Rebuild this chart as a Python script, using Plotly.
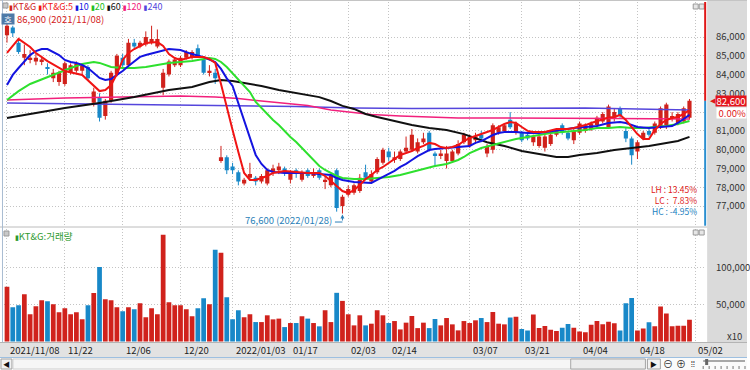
import plotly.graph_objects as go

# ---------------- data ----------------
month_days = {
    "2021/11": [8, 9, 10, 11, 12, 15, 16, 17, 18, 19, 22, 23, 24, 25, 26, 29, 30],
    "2021/12": [1, 2, 3, 6, 7, 8, 9, 10, 13, 14, 15, 16, 17, 20, 21, 22, 23, 24, 27, 28, 29, 30],
    "2022/01": [3, 4, 5, 6, 7, 10, 11, 12, 13, 14, 17, 18, 19, 20, 21, 24, 25, 26, 27, 28],
    "2022/02": [3, 4, 7, 8, 9, 10, 11, 14, 15, 16, 17, 18, 21, 22, 23, 24, 25, 28],
    "2022/03": [2, 3, 4, 7, 8, 10, 11, 14, 15, 16, 17, 18, 21, 22, 23, 24, 25, 28, 29, 30, 31],
    "2022/04": [1, 4, 5, 6, 7, 8, 11, 12, 13, 14, 15, 18, 19, 20, 21, 22, 25, 26, 27, 28, 29],
}
dates = [f"{m}/{d:02d}" for m, ds in month_days.items() for d in ds]

tick_idx = [0, 10, 20, 30, 39, 49, 59, 66, 80, 89, 99, 109, 119]
tick_labels = ["2021/11/08", "11/22", "12/06", "12/20", "2022/01/03", "01/17", "02/03",
               "02/14", "03/07", "03/21", "04/04", "04/18", "05/02"]

price_ticks = [77000, 78000, 79000, 80000, 81000, 82000, 83000, 84000, 85000, 86000]
volume_ticks = [50000, 100000]

opens = [86100, 86500, 85700, 84900, 84800, 84700, 84700, 84400, 83800, 83600,
         83500, 84100, 84200, 84200, 84400, 82500, 82800, 81800, 82600, 84000,
         84900, 84500, 85700, 85500, 85600, 85700, 85500, 83300, 84000, 84500,
         84500, 84900, 84900, 85400, 84800, 84100, 84100, 79400, 79600, 79100,
         78800, 78200, 78500, 78500, 78300, 78200, 78800, 78900, 79000, 78400,
         78900, 78400, 78900, 78600, 78900, 78300, 78100, 78900, 77000, 77600,
         77700, 77800, 78800, 78300, 78800, 79300, 79900, 79500, 79500, 79900,
         80000, 79900, 80400, 80900, 79800, 79700, 79400, 79400, 79800, 80400,
         80200, 80500, 80800, 79800, 80000, 80900, 81000, 81600, 80900, 80900,
         80800, 80400, 80200, 80100, 80300, 80800, 81300, 80900, 80500, 80900,
         81000, 81100, 81300, 81500, 81200, 81700, 82200, 81000, 80600, 79900,
         80600, 81000, 80900, 81200, 81300, 81700, 81400, 81500, 81700]
highs = [86900, 86600, 85900, 85600, 85300, 85100, 85000, 84600, 84300, 84200,
         84700, 84600, 84700, 84600, 84500, 83300, 83000, 82700, 84200, 85100,
         85100, 85900, 85900, 85800, 86300, 86600, 86400, 84300, 84800, 84900,
         85000, 85300, 85300, 85600, 84900, 84500, 84300, 80200, 79700, 79300,
         78900, 78500, 79300, 78600, 78700, 79000, 79200, 79300, 79100, 78900,
         79000, 78900, 79000, 79000, 79000, 78600, 78700, 79000, 77600, 78100,
         78200, 78700, 79200, 78900, 79600, 80100, 80100, 79900, 80000, 80700,
         81100, 80600, 80900, 81000, 79900, 80000, 80200, 80000, 80500, 80900,
         80800, 80900, 81000, 80300, 81400, 81300, 81400, 82000, 81500, 81000,
         80900, 80800, 80900, 80800, 80900, 81100, 81400, 81000, 81100, 81500,
         81400, 81500, 81800, 82000, 82400, 82200, 82300, 81200, 80700, 80500,
         81000, 81100, 81500, 82300, 82500, 82000, 82000, 82300, 82700]
lows = [85700, 86000, 85100, 84500, 84600, 84500, 84500, 84000, 83600, 83400,
        83400, 84000, 84100, 84000, 83700, 82300, 81500, 81600, 82500, 83900,
        84400, 84400, 85400, 85400, 85500, 85600, 85400, 82900, 83900, 84400,
        84400, 84800, 84800, 84900, 84000, 83900, 83500, 79300, 78700, 78700,
        78100, 78100, 78400, 78100, 78200, 78100, 78600, 78700, 78600, 78200,
        78500, 78300, 78500, 78500, 78400, 77900, 78000, 76700, 76600, 77500,
        77600, 77700, 78400, 78200, 78700, 79200, 79400, 79300, 79400, 79800,
        79900, 79800, 80300, 79900, 79100, 79500, 79000, 79300, 79700, 80300,
        80100, 80300, 80400, 79600, 79800, 80800, 80900, 81100, 80800, 80400,
        80500, 80200, 80100, 79900, 80200, 80700, 80800, 80500, 80300, 80800,
        80900, 81000, 81200, 81400, 81100, 81500, 81700, 80400, 79200, 79500,
        80500, 80700, 80800, 81100, 81100, 81500, 81300, 81400, 81600]
closes = [86600, 86200, 85200, 85100, 84900, 84900, 84800, 84300, 84100, 84100,
          84600, 84500, 84600, 84500, 83800, 83100, 81700, 82600, 84100, 85000,
          84500, 85700, 85500, 85700, 86000, 85900, 85900, 84100, 84700, 84800,
          84900, 85200, 85200, 85000, 84100, 84200, 83800, 79600, 78900, 78900,
          78300, 78400, 78700, 78300, 78600, 78900, 79000, 79100, 78800, 78800,
          78700, 78800, 78600, 78800, 78500, 78400, 78600, 76900, 77500, 77900,
          78100, 78500, 78500, 78700, 79500, 80000, 79600, 79600, 79900, 80100,
          80800, 80400, 80600, 80000, 79700, 79800, 79800, 79900, 80300, 80800,
          80700, 80700, 80600, 80200, 81300, 81200, 81300, 81200, 81400, 80500,
          80600, 80700, 80700, 80700, 80800, 81000, 80900, 80600, 81000, 81400,
          81300, 81400, 81700, 81900, 82300, 82000, 81800, 80600, 79700, 80400,
          80900, 80800, 81400, 82200, 82400, 81800, 81900, 82200, 82600]
volumes = [74400, 46600, 49300, 64400, 37000, 48000, 56200, 54800, 50700, 39700,
           45200, 37000, 39700, 30100, 49300, 65800, 101400, 57500, 56200, 46600,
           41100, 46600, 43800, 52100, 32900, 45200, 37000, 145200, 53400, 49300,
           49300, 43800, 34300, 45200, 58900, 50700, 124700, 120600, 60300, 30100,
           42500, 32900, 37000, 26400, 26400, 35600, 30100, 31100, 19600, 25100,
           25100, 34300, 31100, 25100, 20600, 42500, 26400, 66200, 55200, 37000,
           21900, 35600, 21900, 24200, 42500, 35600, 25100, 27800, 16400, 25600,
           34700, 18200, 25600, 18200, 30600, 21900, 31900, 23300, 15100, 27800,
           25100, 28800, 31900, 26400, 40100, 24200, 23300, 32500, 33800, 16900,
           15100, 36600, 18200, 21000, 16000, 14100, 18800, 23700, 18800, 13700,
           12700, 22900, 27800, 23300, 27000, 24700, 15100, 52100, 59300, 15100,
           17800, 26000, 20600, 47500, 37900, 20600, 21500, 21500, 29700]

# moving averages (bar index, value)
ma5_x = [0, 2, 4, 5, 7, 10, 13, 14, 15, 16, 17, 18, 19, 20, 21, 22, 24, 26, 27, 28,
         29, 30, 32, 34, 35, 36, 37, 38, 39, 40, 41, 42, 43, 44, 45, 46, 48, 50, 52, 54,
         55, 56, 57, 58, 59, 60, 61, 62, 63, 64, 65, 66, 67, 68, 69, 70, 71, 72, 73, 74,
         75, 76, 77, 78, 79, 80, 81, 82, 83, 84, 85, 86, 87, 88, 89, 90, 91, 93, 95, 97,
         98, 99, 100, 101, 102, 103, 104, 105, 106, 107, 108, 109, 110, 111, 112, 113,
         114, 115, 116, 117, 118]
ma5 = [85150, 85900, 85470, 85150, 84720, 84190, 83980, 83710, 83390, 83120,
       83180, 83440, 84030, 84780, 85150, 85360, 85680, 85730, 85520, 85090,
       84880, 84780, 84930, 84930, 84830, 84620, 83500, 82220, 81050, 79880,
       78760, 78390, 78390, 78490, 78600, 78760, 78870, 78810, 78760, 78760,
       78600, 78330, 78070, 77800, 77690, 77850, 78120, 78440, 78650, 78920,
       79080, 79290, 79500, 79720, 79820, 79930, 80090, 80200, 80360, 80300,
       80140, 80090, 80140, 80250, 80460, 80620, 80730, 80830, 80940, 81050,
       81210, 81370, 81470, 81420, 81210, 81000, 80940, 80940, 81100, 81100,
       81150, 81210, 81310, 81420, 81530, 81630, 81710, 81740, 81850, 81580,
       81210, 80830, 80570, 80570, 81050, 81370, 81580, 81690, 81740, 81900, 82110]
ma10_x = [0, 1, 2, 3, 4, 5, 6, 7, 8, 9, 10, 11, 12, 13, 14, 15, 16, 17, 18, 19,
          20, 21, 22, 23, 24, 26, 28, 30, 32, 34, 35, 36, 37, 38, 39, 40, 41, 42, 43, 44,
          45, 46, 48, 52, 56, 57, 58, 60, 62, 63, 64, 65, 66, 67, 68, 69, 70, 71, 72, 73,
          74, 76, 78, 79, 80, 81, 82, 83, 84, 85, 86, 88, 90, 92, 94, 96, 98, 100, 102, 104,
          106, 107, 108, 109, 111, 113, 115, 116, 117, 118]
ma10 = [83440, 83980, 84350, 84720, 85040, 85250, 85360, 85360, 85200, 85040,
        84780, 84670, 84620, 84510, 84350, 84080, 83820, 83710, 83760, 83980,
        84190, 84460, 84720, 84940, 85040, 85200, 85360, 85310, 85090, 84930,
        84780, 84670, 84300, 83800, 83390, 82480, 81580, 80680, 79720, 79240,
        78920, 78810, 78760, 78760, 78650, 78490, 78390, 78280, 78230, 78230,
        78390, 78550, 78710, 78870, 79080, 79240, 79450, 79660, 79820, 79980,
        80040, 80090, 80140, 80200, 80200, 80360, 80460, 80620, 80780, 80890,
        80940, 80940, 80890, 80890, 80990, 81050, 81150, 81210, 81260, 81420,
        81470, 81420, 81310, 81210, 81150, 81210, 81260, 81420, 81630, 81850]
ma20_x = [0, 2, 4, 7, 9, 11, 13, 15, 16, 18, 20, 22, 24, 26, 28, 30, 32, 34, 35, 36,
          37, 38, 39, 40, 41, 42, 43, 44, 45, 46, 47, 48, 49, 50, 51, 52, 53, 54, 55, 56,
          57, 58, 60, 62, 64, 66, 68, 70, 72, 74, 76, 78, 79, 80, 82, 84, 86, 88, 90, 92,
          94, 96, 98, 100, 102, 104, 106, 108, 110, 112, 114, 116, 117, 118]
ma20 = [82650, 83120, 83500, 83870, 84140, 84350, 84560, 84670, 84620, 84400,
        84350, 84350, 84400, 84510, 84620, 84670, 84720, 84830, 84880, 84830,
        84670, 84400, 84080, 83710, 83390, 83070, 82540, 82220, 81850, 81580,
        81310, 80990, 80680, 80410, 80090, 79720, 79400, 79130, 78920, 78760,
        78600, 78490, 78440, 78440, 78490, 78550, 78650, 78810, 78970, 79130,
        79240, 79450, 79610, 79820, 80090, 80250, 80410, 80570, 80680, 80780,
        80890, 80940, 80990, 81050, 81150, 81150, 81210, 81150, 81150, 81210,
        81260, 81370, 81470, 81530]
ma60_x = [0, 5, 10, 16, 22, 28, 32, 35, 37, 39, 41, 44, 47, 50, 54, 56, 58, 60, 62, 64,
          67, 70, 73, 76, 79, 81, 83, 86, 89, 92, 95, 97, 99, 102, 105, 108, 111, 114, 116, 118]
ma60 = [81690, 81950, 82220, 82490, 82800, 83180, 83340, 83600, 83710, 83660,
        83550, 83390, 83180, 83020, 82800, 82590, 82330, 82170, 81900, 81740,
        81530, 81310, 81150, 81050, 80830, 80620, 80400, 80200, 79930, 79770,
        79610, 79610, 79720, 79820, 79980, 80090, 80200, 80360, 80460, 80680]
ma120_x = [0, 10, 20, 30, 36, 40, 44, 48, 52, 56, 59, 63, 68, 73, 78, 85, 95, 105, 118]
ma120 = [82650, 82750, 82800, 82860, 82800, 82730, 82590, 82490, 82350, 82110,
         82000, 81870, 81790, 81740, 81690, 81690, 81660, 81660, 81630]
ma240_x = [0, 17, 33, 50, 60, 70, 100, 108, 118]
ma240 = [82490, 82430, 82380, 82300, 82220, 82190, 82220, 82170, 82110]

# ---------------- style / geometry ----------------
FONT = "Noto Sans CJK KR, DejaVu Sans, sans-serif"
W, H = 750, 370
RED, BLUE = "#d0221c", "#1888c8"
C_MA5, C_MA10, C_MA20 = "#f01414", "#1414e0", "#2ee02e"
C_MA60, C_MA120, C_MA240 = "#111111", "#f2207c", "#5546dc"

def fx(p):
    return p / W

def fy(p):
    return 1 - p / H

P_RANGE = [75936, 87864]
V_RANGE = [-700, 153000]
X_RANGE = [-0.52, 120.54]
price_per_px = (P_RANGE[1] - P_RANGE[0]) / 224.0

n = len(closes)
idx = list(range(n))
is_up = [c > o for o, c in zip(opens, closes)]
cols = [RED if u else BLUE for u in is_up]

fig = go.Figure()

# wicks
for col, flag in ((RED, True), (BLUE, False)):
    wx, wy = [], []
    for i in idx:
        if is_up[i] == flag:
            wx += [i, i, None]
            wy += [lows[i], highs[i], None]
    fig.add_trace(go.Scatter(x=wx, y=wy, mode="lines", line=dict(color=col, width=1),
                             xaxis="x", yaxis="y", hoverinfo="skip", showlegend=False))
# bodies
fig.add_trace(go.Bar(x=idx, y=[abs(c - o) for o, c in zip(opens, closes)],
                     base=[min(o, c) for o, c in zip(opens, closes)], width=0.72,
                     marker=dict(color=cols, line=dict(width=0)),
                     xaxis="x", yaxis="y", showlegend=False))
# moving averages
for xs, vs, col, w in [(ma240_x, ma240, C_MA240, 1.5), (ma120_x, ma120, C_MA120, 1.5),
                       (ma60_x, ma60, C_MA60, 2), (ma20_x, ma20, C_MA20, 2),
                       (ma10_x, ma10, C_MA10, 2), (ma5_x, ma5, C_MA5, 2)]:
    fig.add_trace(go.Scatter(x=xs, y=vs, mode="lines", line=dict(color=col, width=w),
                             xaxis="x", yaxis="y", hoverinfo="skip", showlegend=False))
# volume
fig.add_trace(go.Bar(x=idx, y=volumes, width=0.82, marker=dict(color=cols, line=dict(width=0)),
                     xaxis="x2", yaxis="y2", showlegend=False))

last = closes[-1]
grid = dict(showgrid=True, gridcolor="#c4c4c4", griddash="1px,2px", gridwidth=1,
            zeroline=False, showline=False)
tickfont = dict(family=FONT, size=9.5, color="#333333")
# the tick label hidden behind the current-price tags is left blank
price_ticktext = ["" if abs(t - last) < 700 and t < last else f"{t:,}" for t in price_ticks]
fig.update_layout(
    width=W, height=H, margin=dict(l=0, r=0, t=0, b=0),
    paper_bgcolor="white", plot_bgcolor="white", showlegend=False, barmode="overlay",
    xaxis=dict(domain=[fx(4), fx(707)], range=X_RANGE, anchor="y", tickvals=tick_idx,
               showticklabels=False, ticks="", **grid),
    xaxis2=dict(domain=[fx(4), fx(707)], range=X_RANGE, anchor="y2", matches="x",
                tickvals=tick_idx, showticklabels=False, ticks="", **grid),
    yaxis=dict(domain=[fy(226), fy(2)], range=P_RANGE, side="right", anchor="x",
               tickvals=price_ticks, ticktext=price_ticktext, ticks="outside",
               ticklen=9, tickcolor="rgba(0,0,0,0)", tickfont=tickfont, **grid),
    yaxis2=dict(domain=[fy(342), fy(229)], range=V_RANGE, side="right", anchor="x2",
                tickvals=volume_ticks, tickformat=",", ticks="outside",
                ticklen=9, tickcolor="rgba(0,0,0,0)", tickfont=tickfont, **grid),
)

shapes = []

def rect(x0, y0, x1, y1, fill, line=None, layer="below", lw=1):
    shapes.append(dict(type="rect", xref="paper", yref="paper", x0=fx(x0), x1=fx(x1),
                       y0=fy(y1), y1=fy(y0), fillcolor=fill, layer=layer,
                       line=dict(color=line or fill, width=lw if line else 0)))

def hline(x0, x1, y, color, layer="above", w=1):
    shapes.append(dict(type="line", xref="paper", yref="paper", x0=fx(x0), x1=fx(x1),
                       y0=fy(y), y1=fy(y), line=dict(color=color, width=w), layer=layer))

def vline(x, y0, y1, color, layer="above", w=1):
    shapes.append(dict(type="line", xref="paper", yref="paper", x0=fx(x), x1=fx(x),
                       y0=fy(y0), y1=fy(y1), line=dict(color=color, width=w), layer=layer))

# right axis area and date strip
rect(710, 0, 750, 357, "#dadada")
rect(0, 342.5, 750, 357, "#e2e2e2")
hline(0, 750, 342.5, "#b4b4b4")
hline(0, 710, 227, "#bcbcbc")
hline(0, 750, 0.5, "#c4c4c4")
vline(2.5, 0, 342, "#a9bdd2")
# bottom scroll bar
rect(0, 357.5, 750, 370, "#fafafa")
hline(0, 750, 357.5, "#9dbfe0")
rect(1, 359, 12, 369, "#f2f2f2", "#a0a0a0", layer="above")
rect(13, 359, 648, 369, "#f6f6f6", "#cfcfcf", layer="above")
rect(573, 359, 648, 369, "#ececec", "#a8a8a8", layer="above")
rect(650, 359, 663, 369, "#f2f2f2", "#a0a0a0", layer="above")
hline(706, 748, 361, "#555555")
rect(708, 359, 711, 365, "#666666", layer="above")
for k in range(8):
    vline(706 + k * 6, 366, 369, "#777777")
# small panel buttons
for yy in (4, 230):
    rect(696, yy, 701, yy + 5, "#e6e6e6", "#9a9a9a", layer="above")
    rect(702, yy, 707, yy + 5, "#e6e6e6", "#9a9a9a", layer="above")
rect(3, 3, 8, 8, "#c9c9c9", "#9a9a9a", layer="above")
rect(4, 231, 9, 236, "#c9c9c9", "#9a9a9a", layer="above")

# current price bar on the right edge of the price panel
shapes.append(dict(type="line", xref="paper", yref="y", x0=fx(708), x1=fx(708),
                   y0=last, y1=P_RANGE[1], line=dict(color="#e01818", width=2)))
shapes.append(dict(type="line", xref="paper", yref="y", x0=fx(708), x1=fx(708),
                   y0=P_RANGE[0] + 15, y1=last, line=dict(color="#2a8fd0", width=2)))

# low marker connector
imin = min(idx, key=lambda i: lows[i])
imax = max(idx, key=lambda i: highs[i])
lo, hi = lows[imin], highs[imax]
conn_y = lo - 8.5 * price_per_px
shapes.append(dict(type="line", xref="x", yref="y", x0=imin - 1.3, x1=imin,
                   y0=conn_y, y1=conn_y, line=dict(color="#2a7fb8", width=1)))
fig.update_layout(shapes=shapes)

anns = []

def ann(text, x, y, color="#222222", size=10, xanchor="left", **kw):
    d = dict(text=text, x=fx(x), y=fy(y), xref="paper", yref="paper", showarrow=False,
             xanchor=xanchor, yanchor="middle", font=dict(family=FONT, size=size, color=color))
    d.update(kw)
    anns.append(d)

# date labels
for ti, lab in zip(tick_idx, tick_labels):
    anns.append(dict(text=lab, xref="x2", x=ti, yref="paper", y=fy(350), xanchor="left",
                     yanchor="middle", xshift=1, showarrow=False,
                     font=dict(family=FONT, size=9.5, color="#222222")))

# max label (just below the legend row)
ann(f"{hi:,} ({dates[imax]})", 15, 18.5, color="#d42020", size=9.5)
# legend row (one line of coloured items)
legend_items = [(RED, "KT&amp;G"), (C_MA5, "KT&amp;G:5"), (C_MA10, "10"),
                ("#22c022", "20"), (C_MA60, "60"), (C_MA120, "120"), (C_MA240, "240")]
legend_html = " ".join(
    f'<span style="color:{c}"><span style="font-size:7px">▮</span>{lab}</span>'
    for c, lab in legend_items)
ann(legend_html, 7, 6, size=9)
# "호" button
ann("호", 8.5, 19, color="white", size=8.5, xanchor="center", bgcolor="#4e7aa8",
    width=12, height=10, borderpad=0)

# low label with arrow
anns.append(dict(text=f"{lo:,} ({dates[imin]})", xref="x", x=imin, yref="y", y=lo,
                 xanchor="right", yanchor="middle", xshift=-8, yshift=-6.5, showarrow=False,
                 font=dict(family=FONT, size=9.5, color="#2a7fb8")))
anns.append(dict(text="", xref="x", x=imin, yref="y", y=lo, showarrow=True, ax=0, ay=8.5,
                 arrowhead=2, arrowsize=0.8, arrowwidth=1, arrowcolor="#2a7fb8", standoff=1))

# LH / LC / HC statistics (one block of three coloured lines)
lh = (hi - lo) / lo * 100
lc = (last - lo) / lo * 100
hc = (last - hi) / hi * 100
stats_html = (f'<span style="color:#e02020">LH : {lh:.2f}%</span><br>'
              f'<span style="color:#e02020">LC :  {lc:.2f}%</span><br>'
              f'<span style="color:#2080c0">HC : {hc:.2f}%</span>')
ann(stats_html, 702, 200, size=8.5, xanchor="right", align="right")

# current price tag
anns.append(dict(text="◀", xref="paper", x=fx(711), yref="y", y=last, xanchor="left",
                 yanchor="middle", showarrow=False,
                 font=dict(family="DejaVu Sans", size=7, color="#e01818")))
anns.append(dict(text=f"{last:,}", xref="paper", x=fx(718), yref="y", y=last, xanchor="left",
                 yanchor="middle", yshift=-0.5, showarrow=False, bgcolor="#e4141c", width=30,
                 height=10, borderpad=0, font=dict(family=FONT, size=9.5, color="white")))
ann("0.00%", 719, 112.5, color="#e02020", size=9.5, bgcolor="white", width=29, height=10,
    borderpad=0, align="right")

# volume panel legend and unit
ann('<span style="font-size:7px">▮</span>KT&amp;G:거래량', 13, 235.5, color="#2e9a2e", size=9.5)
ann("x10", 747, 336, color="#333333", size=9.5, xanchor="right")

# scroll bar glyphs
ann("◀", 6.5, 364, color="#111111", size=7, xanchor="center")
ann("▶", 656.5, 364, color="#111111", size=7, xanchor="center")
ann("⊖", 671, 363.5, color="#333333", size=10, xanchor="center")
ann("⊕", 684, 363.5, color="#333333", size=10, xanchor="center")
ann("⦙⦙", 696, 363, color="#333333", size=8, xanchor="center")

fig.update_layout(annotations=anns)
fig.write_html("out.html", config={"displayModeBar": False},
               post_script="document.body.style.margin='0px';document.body.style.overflow='hidden';")
